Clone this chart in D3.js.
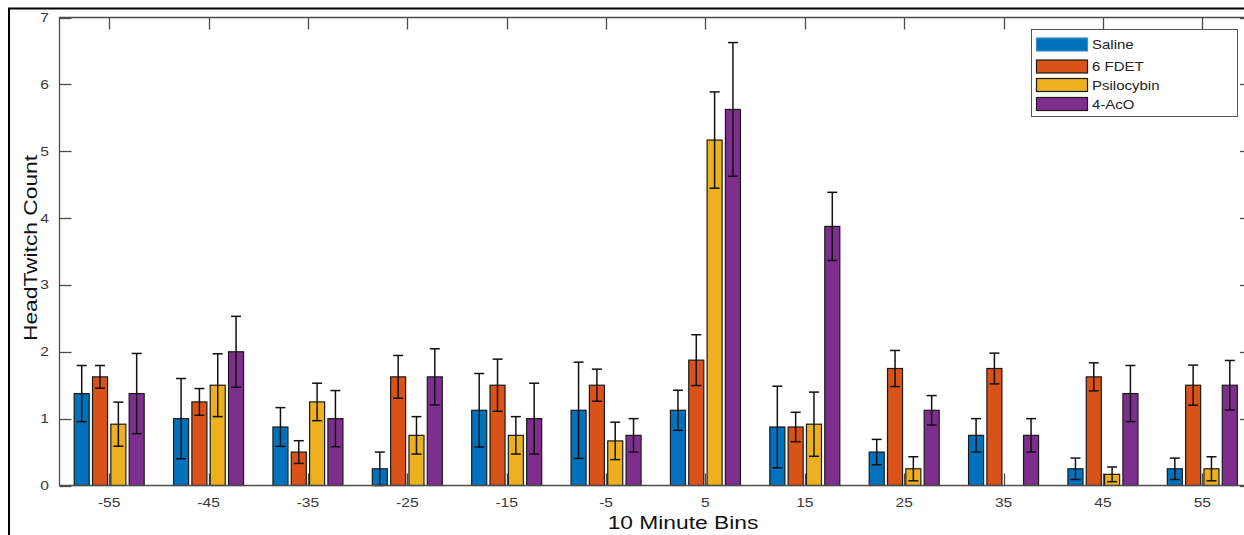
<!DOCTYPE html>
<html>
<head>
<meta charset="utf-8">
<script src="https://cdn.jsdelivr.net/npm/d3@7"></script>
<style>
  body { margin: 0; background: #fff; }
  text { font-family: "Liberation Sans", Arial, sans-serif; }
</style>
</head>
<body>
<div id="chart"></div>
<script>
// data
var bins = [-55, -45, -35, -25, -15, -5, 5, 15, 25, 35, 45, 55]
var series = ["Saline", "6 FDET", "Psilocybin", "4-AcO"]
var colors = ["#0072BD", "#D95319", "#EDB120", "#7E2F8E"]

var saline    = [1.375, 1.0, 0.875, 0.25, 1.125, 1.125, 1.125, 0.875, 0.5, 0.75, 0.25, 0.25]
var salineErr = [0.42, 0.6, 0.29, 0.25, 0.55, 0.72, 0.3, 0.61, 0.19, 0.25, 0.16, 0.16]
var fdet      = [1.625, 1.25, 0.5, 1.625, 1.5, 1.5, 1.875, 0.875, 1.75, 1.75, 1.625, 1.5]
var fdetErr   = [0.17, 0.2, 0.17, 0.32, 0.39, 0.24, 0.38, 0.22, 0.27, 0.23, 0.21, 0.3]
var psilo     = [0.917, 1.5, 1.25, 0.75, 0.75, 0.667, 5.167, 0.917, 0.25, 0, 0.167, 0.25]
var psiloErr  = [0.33, 0.47, 0.28, 0.28, 0.28, 0.28, 0.72, 0.48, 0.18, 0, 0.11, 0.18]
var aco       = [1.375, 2.0, 1.0, 1.625, 1.0, 0.75, 5.625, 3.875, 1.125, 0.75, 1.375, 1.5]
var acoErr    = [0.6, 0.53, 0.42, 0.42, 0.53, 0.25, 1.0, 0.51, 0.22, 0.25, 0.42, 0.37]

var yTicks = [0, 1, 2, 3, 4, 5, 6, 7]

var means = [saline, fdet, psilo, aco]
var errs = [salineErr, fdetErr, psiloErr, acoErr]

var width = 1244, height = 535
// plot box edges (the right edge sits just past the picture)
var boxL = 59.5, boxR = 1252, boxT = 17.5, boxB = 485.5
var tickLen = 12
var axisColor = "#4d4d4d", labelColor = "#3a3a3a"
var stretch = 1.2 // the text in the figure is drawn wide

var svg = d3.select("#chart").append("svg")
  .attr("width", width)
  .attr("height", height)

var x = d3.scaleLinear().domain([0.5, 12.5]).range([boxL, boxR])
var y = d3.scaleLinear().domain([0, 7]).range([boxB, boxT])
var xInner = d3.scaleBand().domain(series).range([-35, 35]).paddingInner(0.18)

// flatten into rows for drawing
var rows = []
bins.forEach(function(b, i) {
  series.forEach(function(s, j) {
    rows.push({ i: i, s: s, j: j, v: means[j][i], e: errs[j][i] })
  })
})

// outer frame
svg.append("path")
  .attr("d", "M9," + height + "V8.5H" + width)
  .attr("fill", "none")
  .attr("stroke", "#000")
  .attr("stroke-width", 2)

// bottom and top ticks (behind the bars)
var tickG = svg.append("g").attr("stroke", axisColor).attr("stroke-width", 1.3)
bins.forEach(function(b, i) {
  var tx = Math.round(x(i + 1)) + 0.5
  tickG.append("line").attr("x1", tx).attr("x2", tx).attr("y1", boxB).attr("y2", boxB - tickLen)
  tickG.append("line").attr("x1", tx).attr("x2", tx).attr("y1", boxT).attr("y2", boxT + tickLen)
})
yTicks.forEach(function(t) {
  var ty = Math.round(y(t)) + 0.5
  tickG.append("line").attr("x1", boxL).attr("x2", boxL + tickLen).attr("y1", ty).attr("y2", ty)
  tickG.append("line").attr("x1", boxR).attr("x2", boxR - tickLen).attr("y1", ty).attr("y2", ty)
})

// bars
svg.append("g")
  .selectAll("rect")
  .data(rows.filter(function(d) { return d.v > 0 }))
  .enter()
  .append("rect")
  .attr("x", function(d) { return x(d.i + 1) + xInner(d.s) })
  .attr("width", xInner.bandwidth())
  .attr("y", function(d) { return y(d.v) })
  .attr("height", function(d) { return y(0) - y(d.v) })
  .attr("fill", function(d) { return colors[d.j] })
  .attr("stroke", "#1a1a1a")
  .attr("stroke-width", 1.2)

// error bars
var errG = svg.append("g").attr("stroke", "#111").attr("stroke-width", 1.5)
rows.filter(function(d) { return d.e > 0 }).forEach(function(d) {
  var cx = x(d.i + 1) + xInner(d.s) + xInner.bandwidth() / 2
  var y1 = y(d.v + d.e), y2 = y(Math.max(0, d.v - d.e))
  errG.append("line").attr("x1", cx).attr("x2", cx).attr("y1", y1).attr("y2", y2)
  errG.append("line").attr("x1", cx - 5).attr("x2", cx + 5).attr("y1", y1).attr("y2", y1)
  errG.append("line").attr("x1", cx - 5).attr("x2", cx + 5).attr("y1", y2).attr("y2", y2)
})

// axis box
svg.append("path")
  .attr("d", "M" + boxR + "," + boxT + "H" + boxL + "V" + boxB + "H" + boxR)
  .attr("fill", "none")
  .attr("stroke", axisColor)
  .attr("stroke-width", 1.3)

function wideText(g, tx, ty, str, size, anchor, color) {
  return g.append("text")
    .attr("transform", "translate(" + tx + "," + ty + ") scale(" + stretch + ",1)")
    .attr("text-anchor", anchor)
    .attr("font-size", size)
    .attr("fill", color)
    .text(str)
}

// tick labels
var lab = svg.append("g")
bins.forEach(function(b, i) {
  wideText(lab, x(i + 1), 507, b, 13, "middle", labelColor)
})
yTicks.forEach(function(t) {
  wideText(lab, 49, y(t) + 4.5, t, 13, "end", labelColor)
})

// axis titles
wideText(svg, 683, 529, "10 Minute Bins", 19, "middle", "#111")
svg.append("text")
  .attr("transform", "translate(37,248) rotate(-90) scale(" + stretch + ",1)")
  .attr("text-anchor", "middle")
  .attr("font-size", 19)
  .attr("fill", "#111")
  .text("HeadTwitch Count")

// legend
var lg = svg.append("g")
lg.append("rect")
  .attr("x", 1031.5).attr("y", 29.5)
  .attr("width", 206).attr("height", 87)
  .attr("fill", "#fff")
  .attr("stroke", "#555")
  .attr("stroke-width", 1)

var legendY = [44.5, 66.5, 85, 104]
series.forEach(function(s, j) {
  lg.append("rect")
    .attr("x", 1036.5).attr("y", legendY[j] - 6.5)
    .attr("width", 51).attr("height", 13)
    .attr("fill", colors[j])
    .attr("stroke", j === 0 ? "#3d8fd0" : "#1a1a1a")
    .attr("stroke-width", 1.2)
  wideText(lg, 1092, legendY[j] + 4.5, s, 12.5, "start", "#222")
})
</script>
</body>
</html>
